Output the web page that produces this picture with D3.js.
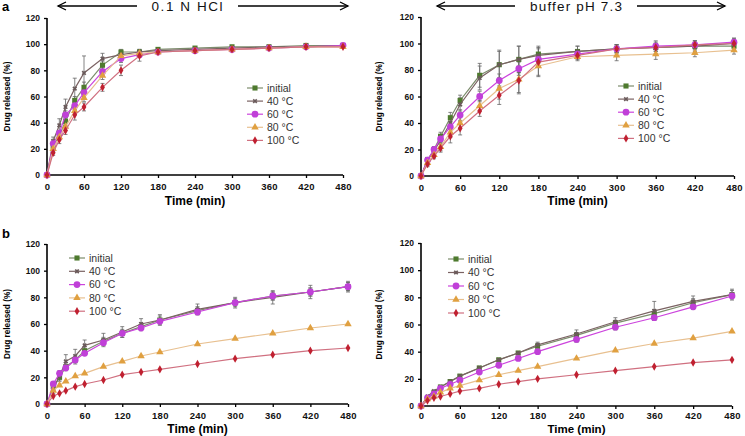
<!DOCTYPE html>
<html><head><meta charset="utf-8">
<script src="https://cdn.jsdelivr.net/npm/d3@7"></script>
<style>body{margin:0;background:#fff}svg{display:block}text{font-family:"Liberation Sans",Arial,sans-serif}</style>
</head><body><svg id="c" width="745" height="436"></svg>
<script>
const times = [0,10,20,30,45,60,90,120,150,180,240,300,360,420,480];
const xTicks = [0,60,120,180,240,300,360,420,480];
const yTicks = [0,20,40,60,80,100,120];
const seriesNames = ["initial","40 °C","60 °C","80 °C","100 °C"];

// Panel a, 0.1 N HCl
const aHclInitial = [0,22,30,41,57,67,84,94,94,96,97,98,98,99,99];
const aHcl40      = [0,26,38,52,66,78,89,92,94,95,96,97,98,98,99];
const aHcl60      = [0,24,32,46,53,63,79,89,92,94,95,96,97,98,99];
const aHcl80      = [0,20,29,37,49,59,76,91,93,94,95,96,97,98,98];
const aHcl100     = [0,17,27,34,46,52,67,80,91,94,95,96,97,98,98];
const aHclErr = [
  [0,2,2,3,3,4,3,2,2,1,1,1,1,1,1],
  [0,3,5,6,8,13,4,3,2,1,1,1,1,1,1],
  [0,2,2,3,3,3,3,3,2,1,1,1,1,1,1],
  [0,2,2,3,3,3,3,2,2,1,1,1,1,1,1],
  [0,2,3,3,4,3,3,4,4,1,1,1,1,1,1]];

// Panel a, buffer pH 7.3
const aBufInitial = [0,12,20,30,44,57,76,84,88,92,94,96,97,98,98];
const aBuf40      = [0,12,19,27,40,54,74,84,88,91,94,96,97,98,100];
const aBuf60      = [0,12,20,28,37,46,60,72,81,88,92,96,98,99,101];
const aBuf80      = [0,10,16,22,33,40,53,66,73,83,90,91,92,93,95];
const aBuf100     = [0,9,15,21,30,36,49,61,72,86,91,96,97,99,100];
const aBufErr = [
  [0,2,2,3,4,4,9,11,10,6,4,3,3,3,3],
  [0,2,3,3,4,5,9,10,10,6,4,3,5,4,4],
  [0,2,2,3,4,4,4,5,5,5,3,3,3,3,3],
  [0,2,2,3,4,4,4,8,10,8,3,4,4,3,3],
  [0,2,2,3,5,5,4,7,10,10,3,3,3,3,3]];

// Panel b, 0.1 N HCl
const bHclInitial = [0,13,20,28,33,40,47,53,58,63,70,76,81,84,88];
const bHcl40      = [0,11,21,32,36,44,48,54,60,63,71,76,80,84,88];
const bHcl60      = [0,15,23,27,33,38,46,53,57,62,69,76,81,84,88];
const bHcl80      = [0,10,14,17,21,23,28,32,36,39,45,49,53,57,60];
const bHcl100     = [0,6,8,10,13,15,18,22,24,26,30,34,37,40,42];
const bHclErr = [
  [0,2,2,3,3,3,3,3,3,3,3,3,3,3,3],
  [0,3,4,5,5,4,5,4,4,4,4,4,5,5,4],
  [0,1,1,1,1,1,1,1,1,2,2,2,3,3,3],
  [0,1,1,1,1,1,1,1,1,1,1,1,1,1,1],
  [0,1,1,1,1,1,1,1,1,1,1,1,1,1,1]];

// Panel b, buffer pH 7.3
const bBufInitial = [0,6,10,14,18,22,28,34,39,44,52,61,68,76,82];
const bBuf40      = [0,7,11,14,18,22,28,34,39,45,53,62,70,77,82];
const bBuf60      = [0,6,9,13,16,19,25,30,35,40,49,58,65,73,81];
const bBuf80      = [0,5,7,10,13,15,19,23,26,29,35,41,46,50,55];
const bBuf100     = [0,4,6,7,9,11,13,16,18,20,23,26,29,32,34];
const bBufErr = [
  [0,1,1,1,1,1,1,1,1,2,2,2,3,3,3],
  [0,1,1,1,1,1,1,1,1,2,3,3,7,4,4],
  [0,1,1,1,1,1,1,1,1,1,2,2,2,2,2],
  [0,1,1,1,1,1,1,1,1,1,1,1,1,1,1],
  [0,1,1,1,1,1,1,1,1,1,1,1,1,1,1]];

const styles = [
  {line:"#7c8c6c", fill:"#4e7a2e", sym:d3.symbolSquare, size:26},
  {line:"#7a6262", fill:"#6a5a5a", sym:d3.symbolCross, size:14},
  {line:"#cc44dd", fill:"#c040d8", sym:d3.symbolCircle, size:36},
  {line:"#e8c090", fill:"#e0a040", sym:d3.symbolTriangle, size:24},
  {line:"#d07080", fill:"#c02030", sym:d3.symbolDiamond, size:20}
];

const svg = d3.select("#c");

function panel(cfg){
  const x = d3.scaleLinear().domain([0,480]).range([cfg.x0,cfg.x1]);
  const y = d3.scaleLinear().domain([0,120]).range([cfg.y0,cfg.y1]);
  const g = svg.append("g");
  const ax = g.append("g").attr("transform",`translate(0,${cfg.y0})`)
    .call(d3.axisBottom(x).tickValues(xTicks).tickSize(3).tickPadding(cfg.tp||5));
  const ay = g.append("g").attr("transform",`translate(${cfg.x0},0)`)
    .call(d3.axisLeft(y).tickValues(yTicks).tickSize(3).tickPadding(4));
  [ax,ay].forEach(a=>{
    a.select(".domain").attr("stroke","#000").attr("stroke-width",1.6);
    a.selectAll(".tick line").attr("stroke","#000").attr("stroke-width",1.3);
    a.selectAll("text").attr("font-weight","bold").attr("fill","#111");
  });
  ax.selectAll("text").attr("font-size",9.5).attr("letter-spacing",0.3);
  ay.selectAll("text").attr("font-size",8.5);
  ay.select(".domain").attr("d",`M0,${cfg.y1}V${cfg.y0}`);
  ax.select(".domain").attr("d",`M${cfg.x0},0H${cfg.x1}`);
  g.append("text").attr("x",(cfg.x0+cfg.x1)/2).attr("y",cfg.xt)
    .attr("text-anchor","middle").attr("font-size",cfg.xfs||12).attr("font-weight","bold").text("Time (min)");
  g.append("text").attr("transform",`translate(${cfg.yt},${(cfg.y0+cfg.y1)/2}) rotate(-90)`)
    .attr("text-anchor","middle").attr("font-size",8.5).attr("font-weight","bold")
    .attr("textLength",70).attr("lengthAdjust","spacingAndGlyphs").text("Drug released (%)");
  const line = d3.line().x((d,i)=>x(times[i])).y(d=>y(d));
  cfg.data.forEach((s,k)=>{
    const eg = g.append("g").attr("stroke","#666").attr("stroke-width",0.8);
    s.forEach((v,i)=>{
      const e = cfg.err[k][i];
      if(e<1.5) return;
      const xx = x(times[i]);
      eg.append("line").attr("x1",xx).attr("x2",xx).attr("y1",y(v-e)).attr("y2",y(v+e));
      eg.append("line").attr("x1",xx-2).attr("x2",xx+2).attr("y1",y(v-e)).attr("y2",y(v-e));
      eg.append("line").attr("x1",xx-2).attr("x2",xx+2).attr("y1",y(v+e)).attr("y2",y(v+e));
    });
  });
  cfg.data.forEach((s,k)=>{
    const st = styles[k];
    g.append("path").datum(s).attr("d",line).attr("fill","none")
      .attr("stroke",st.line).attr("stroke-width",1.2);
    g.selectAll(null).data(s).enter().append("path")
      .attr("d",d3.symbol().type(st.sym).size(st.size))
      .attr("transform",(d,i)=>`translate(${x(times[i])},${y(d)})${k===1?" rotate(45)":""}`)
      .attr("fill",st.fill);
  });
  seriesNames.forEach((n,k)=>{
    const st = styles[k];
    const ly = cfg.ly + k*cfg.ldy;
    g.append("line").attr("x1",cfg.lx).attr("x2",cfg.lx+16).attr("y1",ly).attr("y2",ly)
      .attr("stroke",st.line).attr("stroke-width",1.2);
    g.append("path").attr("d",d3.symbol().type(st.sym).size(st.size))
      .attr("transform",`translate(${cfg.lx+8},${ly})${k===1?" rotate(45)":""}`).attr("fill",st.fill);
    g.append("text").attr("x",cfg.lx+20).attr("y",ly+3.8).attr("font-size",10.5)
      .attr("fill","#333").text(n);
  });
}

panel({x0:47,x1:343,y0:175,y1:18,xt:205,yt:10,lx:247,ly:88,ldy:13.1,
  data:[aHclInitial,aHcl40,aHcl60,aHcl80,aHcl100],err:aHclErr});
panel({x0:421,x1:734,y0:176,y1:17,xt:205,yt:382,lx:618,ly:86,ldy:13.1,
  data:[aBufInitial,aBuf40,aBuf60,aBuf80,aBuf100],err:aBufErr});
panel({x0:47,x1:348,y0:404,y1:244,xt:433,yt:10,lx:69,ly:258,ldy:13.3,
  data:[bHclInitial,bHcl40,bHcl60,bHcl80,bHcl100],err:bHclErr});
panel({x0:421,x1:732,y0:406,y1:243,xt:433,xfs:11.5,yt:382,lx:448,ly:259,ldy:13.5,tp:3,
  data:[bBufInitial,bBuf40,bBuf60,bBuf80,bBuf100],err:bBufErr});

svg.append("text").attr("x",2).attr("y",11).attr("font-size",13).attr("font-weight","bold").text("a");
svg.append("text").attr("x",2).attr("y",238).attr("font-size",13).attr("font-weight","bold").text("b");

const heads = [
  {l:58,le:137,t:"0.1 N  HCl",tc:187,w:71,rs:238,r:348,y:6},
  {l:437,le:515,t:"buffer pH 7.3",tc:576,w:92,rs:637,r:725,y:6}
];
const hg = svg.append("g").attr("stroke","#000").attr("stroke-width",1.3).attr("fill","none");
heads.forEach(h=>{
  hg.append("line").attr("x1",h.l).attr("x2",h.le).attr("y1",h.y).attr("y2",h.y);
  hg.append("path").attr("d",`M${h.l+8},${h.y-4}L${h.l},${h.y}L${h.l+8},${h.y+4}`);
  hg.append("line").attr("x1",h.rs).attr("x2",h.r).attr("y1",h.y).attr("y2",h.y);
  hg.append("path").attr("d",`M${h.r-8},${h.y-4}L${h.r},${h.y}L${h.r-8},${h.y+4}`);
  svg.append("text").attr("x",h.tc).attr("y",h.y+5).attr("text-anchor","middle")
    .attr("font-size",13.5).attr("fill","#111")
    .attr("textLength",h.w).attr("lengthAdjust","spacing").text(h.t);
});
</script></body></html>
